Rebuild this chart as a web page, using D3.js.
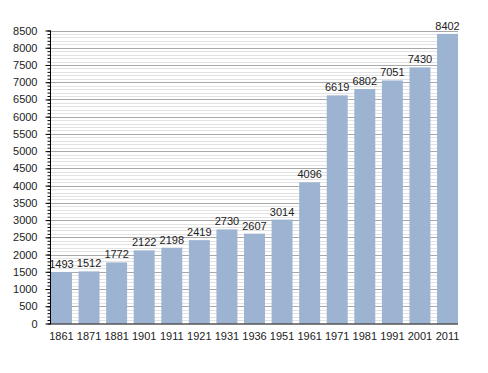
<!DOCTYPE html>
<html>
<head>
<meta charset="utf-8">
<script src="https://cdn.jsdelivr.net/npm/d3@7"></script>
<style>
  body { margin: 0; background: #fff; }
  text { font-family: "Liberation Sans", Arial, sans-serif; }
</style>
</head>
<body>
<div id="chart"></div>
<script>
// census years and population
var years = ["1861", "1871", "1881", "1901", "1911", "1921", "1931", "1936", "1951", "1961", "1971", "1981", "1991", "2001", "2011"];
var population = [1493, 1512, 1772, 2122, 2198, 2419, 2730, 2607, 3014, 4096, 6619, 6802, 7051, 7430, 8402];
var yMajorTicks = [0, 500, 1000, 1500, 2000, 2500, 3000, 3500, 4000, 4500, 5000, 5500, 6000, 6500, 7000, 7500, 8000, 8500];

var W = 488, H = 373;
var plotLeft = 50, plotRight = 458, plotTop = 30.5, plotBottom = 323.5;

var svg = d3.select("#chart")
  .append("svg")
  .attr("width", W)
  .attr("height", H);

var x = d3.scaleBand()
  .domain(years)
  .range([plotLeft + 1, plotRight])
  .paddingInner(0.24)
  .paddingOuter(0);

var y = d3.scaleLinear()
  .domain([0, 8500])
  .range([plotBottom, plotTop]);

var minorTicks = d3.range(0, 8501, 100);

// minor gridlines
svg.append("g")
  .selectAll("line")
  .data(minorTicks.filter(function(d) { return d % 500 !== 0; }))
  .enter()
  .append("line")
  .attr("x1", plotLeft)
  .attr("x2", plotRight)
  .attr("y1", function(d) { return Math.round(y(d)) + 0.5; })
  .attr("y2", function(d) { return Math.round(y(d)) + 0.5; })
  .style("stroke", "#e2e2e2")
  .style("stroke-width", 1);

// major gridlines
svg.append("g")
  .selectAll("line")
  .data(yMajorTicks.filter(function(d) { return d > 0; }))
  .enter()
  .append("line")
  .attr("x1", plotLeft)
  .attr("x2", plotRight)
  .attr("y1", function(d) { return Math.round(y(d)) + 0.5; })
  .attr("y2", function(d) { return Math.round(y(d)) + 0.5; })
  .style("stroke", "#a8a8a8")
  .style("stroke-width", 1);

// bars
svg.append("g")
  .selectAll("rect")
  .data(population)
  .enter()
  .append("rect")
  .attr("x", function(d, i) { return x(years[i]); })
  .attr("y", function(d) { return y(d); })
  .attr("width", x.bandwidth())
  .attr("height", function(d) { return y(0) - y(d); })
  .style("fill", "#9cb4d1");

// value labels
svg.append("g")
  .selectAll("text")
  .data(population)
  .enter()
  .append("text")
  .attr("x", function(d, i) { return x(years[i]) + x.bandwidth() / 2; })
  .attr("y", function(d) { return y(d) - 4; })
  .style("text-anchor", "middle")
  .style("font-size", "11px")
  .style("fill", "#222")
  .text(function(d) { return d; });

// y axis minor ticks
svg.append("g")
  .attr("transform", "translate(" + (plotLeft + 0.5) + ",0)")
  .call(d3.axisLeft(y).tickValues(minorTicks).tickSize(3).tickFormat(""))
  .call(function(g) {
    g.select(".domain").remove();
    g.selectAll("line").attr("stroke", "#000");
  });

// y axis major ticks + labels
svg.append("g")
  .attr("transform", "translate(" + (plotLeft + 0.5) + ",0)")
  .call(d3.axisLeft(y).tickValues(yMajorTicks).tickSize(5).tickPadding(8).tickFormat(d3.format("d")))
  .call(function(g) {
    g.select(".domain").attr("d", "M0," + plotTop + "V" + (plotBottom + 0.5));
    g.selectAll("text").style("font-size", "11px").style("fill", "#222")
      .style("font-family", "Liberation Sans, Arial, sans-serif");
  });

// x axis
svg.append("g")
  .attr("transform", "translate(0," + (plotBottom + 0.5) + ")")
  .call(d3.axisBottom(x).tickSize(0).tickPadding(8))
  .call(function(g) {
    g.select(".domain").attr("d", "M" + plotLeft + ",0H" + plotRight);
    g.selectAll("text").style("font-size", "11px").style("fill", "#222")
      .style("font-family", "Liberation Sans, Arial, sans-serif");
  });
</script>
</body>
</html>
